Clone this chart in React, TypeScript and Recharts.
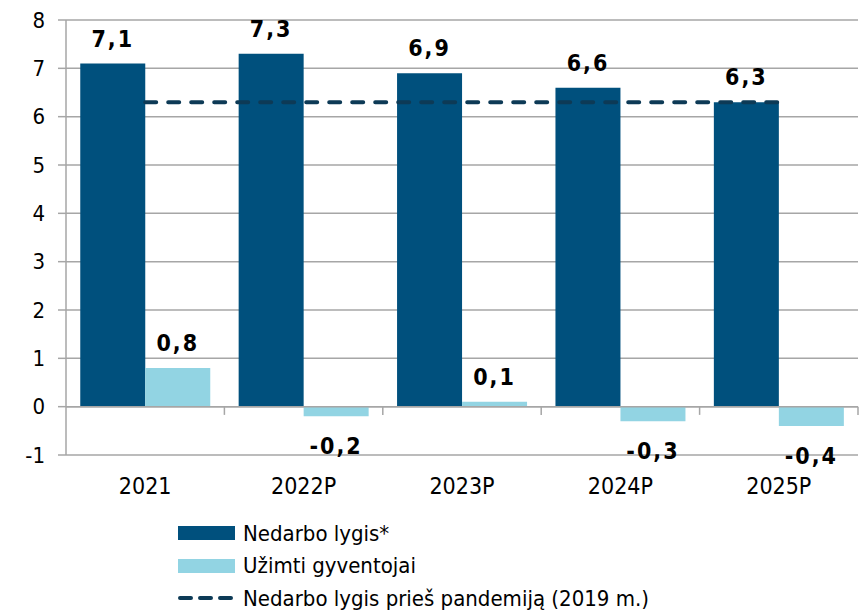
import React from 'react';
import { ComposedChart, Bar, Line, XAxis, YAxis, CartesianGrid, ReferenceLine, LabelList, Legend } from 'recharts';

const categories = ['2021', '2022P', '2023P', '2024P', '2025P'];
const unemployment = [7.1, 7.3, 6.9, 6.6, 6.3];
const employed = [0.8, -0.2, 0.1, -0.3, -0.4];
const prePandemic = [6.3, 6.3, 6.3, 6.3, 6.3];
const yTicks = [-1, 0, 1, 2, 3, 4, 5, 6, 7, 8];
const seriesNames = ['Nedarbo lygis*', 'Užimti gyventojai', 'Nedarbo lygis prieš pandemiją (2019 m.)'];

const data = categories.map((c, i) => ({
  cat: c,
  unemp: unemployment[i],
  empl: employed[i],
  pre: prePandemic[i],
}));

const DARK = '#00507D';
const LIGHT = '#92D4E3';
const LINE = '#0D3A56';
const GRID = '#A6A6A6';
const FONT = '"DejaVu Sans Condensed", "DejaVu Sans", sans-serif';

const fmt = (v: number) => v.toFixed(1).replace('.', ',');

const renderLabel = (props: any) => {
  const { x, y, width, height, value } = props;
  const top = Math.min(y, y + height);
  const bottom = Math.max(y, y + height);
  const cx = x + width / 2;
  const cy = value >= 0 ? top - 25 : bottom + 30;
  return (
    <text
      x={cx}
      y={cy}
      textAnchor="middle"
      dominantBaseline="central"
      fontFamily={FONT}
      fontWeight="bold"
      fontSize={23}
      letterSpacing={2}
      fill="#000"
    >
      {fmt(value)}
    </text>
  );
};

const LegendContent = () => (
  <div style={{ fontFamily: FONT, fontSize: 22, color: '#000' }}>
    {seriesNames.map((name, i) => (
      <div key={name} style={{ display: 'flex', alignItems: 'center', height: 32.5 }}>
        <svg width={60} height={16} style={{ marginLeft: 178, marginRight: 5 }}>
          {i < 2 ? (
            <rect x={0} y={1} width={57} height={14} fill={i === 0 ? DARK : LIGHT} />
          ) : (
            <line x1={2} y1={8} x2={55} y2={8} stroke={LINE} strokeWidth={4} strokeDasharray="11 9" strokeLinecap="round" />
          )}
        </svg>
        <span style={{ whiteSpace: 'nowrap' }}>{name}</span>
      </div>
    ))}
  </div>
);

export default function App() {
  return (
    <div style={{ position: 'absolute', left: 0, top: 0, width: 862, height: 614, background: '#fff' }}>
      <ComposedChart
        width={862}
        height={614}
        data={data}
        margin={{ top: 20, right: 4, left: 0, bottom: 129 }}
        barCategoryGap="9%"
        barGap={0}
      >
        <CartesianGrid vertical={false} stroke={GRID} strokeWidth={1.5} />
        <XAxis
          dataKey="cat"
          height={30}
          axisLine={false}
          tickLine={false}
          tickSize={0}
          tickMargin={23}
          tick={{ fontFamily: FONT, fontSize: 23, fill: '#000' }}
        />
        <YAxis
          width={66}
          domain={[-1, 8]}
          ticks={yTicks}
          interval={0}
          axisLine={{ stroke: GRID, strokeWidth: 1.5 }}
          tickLine={{ stroke: GRID, strokeWidth: 1.5 }}
          tickSize={8}
          tickMargin={13}
          tick={{ fontFamily: FONT, fontSize: 22, fill: '#000' }}
        />
        <ReferenceLine y={0} stroke={GRID} strokeWidth={1.5} />
        {categories.map((c) => (
          <ReferenceLine
            key={'t' + c}
            segment={[{ x: c, y: 0 }, { x: c, y: -0.17 }]}
            position="end"
            stroke={GRID}
            strokeWidth={1.5}
          />
        ))}
        <Bar dataKey="unemp" fill={DARK} isAnimationActive={false}>
          <LabelList dataKey="unemp" content={renderLabel} />
        </Bar>
        <Bar dataKey="empl" fill={LIGHT} isAnimationActive={false}>
          <LabelList dataKey="empl" content={renderLabel} />
        </Bar>
        <Line
          dataKey="pre"
          stroke={LINE}
          strokeWidth={4}
          strokeDasharray="11 12"
          strokeLinecap="round"
          dot={false}
          activeDot={false}
          isAnimationActive={false}
        />
        <Legend
          layout="vertical"
          align="center"
          verticalAlign="middle"
          wrapperStyle={{ top: 517, left: 0, width: 862 }}
          content={<LegendContent />}
        />
      </ComposedChart>
    </div>
  );
}
